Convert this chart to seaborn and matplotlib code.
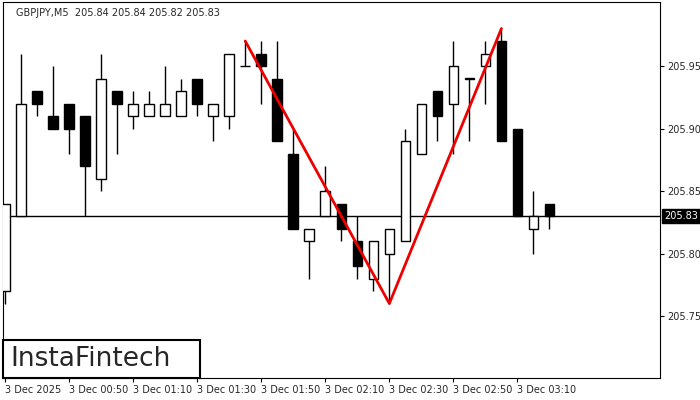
import matplotlib
matplotlib.use("Agg")
import matplotlib.pyplot as plt
import matplotlib.patches as mpatches
import seaborn as sns
import numpy as np

sns.set_style("white")
plt.rcParams['font.family'] = ['DejaVu Sans']

opens  = [205.77,205.83,205.93,205.91,205.92,205.91,205.86,205.93,205.91,205.91,205.91,205.91,205.94,205.91,205.91,205.95,205.96,205.94,
          205.88,205.81,205.83,205.84,205.81,205.78,205.80,205.81,205.88,205.93,205.92,205.94,205.95,205.97,205.90,205.82,205.84]
closes = [205.84,205.92,205.92,205.90,205.90,205.87,205.94,205.92,205.92,205.92,205.92,205.93,205.92,205.92,205.96,205.95,205.95,205.89,
          205.82,205.82,205.85,205.82,205.79,205.81,205.82,205.89,205.92,205.91,205.95,205.94,205.96,205.89,205.83,205.83,205.83]
highs  = [205.84,205.96,205.93,205.95,205.92,205.91,205.96,205.93,205.93,205.93,205.95,205.94,205.94,205.92,205.96,205.97,205.97,205.97,
          205.90,205.82,205.87,205.84,205.83,205.81,205.82,205.90,205.92,205.93,205.97,205.94,205.97,205.98,205.90,205.85,205.84]
lows   = [205.76,205.83,205.91,205.90,205.88,205.83,205.85,205.88,205.90,205.91,205.91,205.91,205.91,205.89,205.90,205.95,205.92,205.89,
          205.82,205.78,205.83,205.81,205.78,205.77,205.76,205.81,205.88,205.89,205.88,205.89,205.92,205.89,205.83,205.80,205.82]
pattern_idx = [15, 24, 31]
pattern_val = [205.97, 205.76, 205.98]
current_price = 205.83
xtick_idx = [0, 4, 8, 12, 16, 20, 24, 28, 32]
xtick_labels = ["3 Dec 2025", "3 Dec 00:50", "3 Dec 01:10", "3 Dec 01:30", "3 Dec 01:50",
                "3 Dec 02:10", "3 Dec 02:30", "3 Dec 02:50", "3 Dec 03:10"]
ytick_vals = [205.75, 205.80, 205.85, 205.90, 205.95]
title = "GBPJPY,M5  205.84 205.84 205.82 205.83"

fig = plt.figure(figsize=(7, 4), dpi=100)
ax = fig.add_axes([3/700, 22/400, 657/700, 376/400])
x = np.arange(len(opens))
o = np.array(opens); c = np.array(closes)
ax.vlines(x, lows, highs, color="black", lw=1, zorder=2)
up = c >= o
bottoms = np.minimum(o, c)
heights = np.maximum(np.abs(c - o), 0.0004)
ax.bar(x[up], heights[up], bottom=bottoms[up], width=0.6, facecolor="white", edgecolor="black", lw=1, zorder=3)
ax.bar(x[~up], heights[~up], bottom=bottoms[~up], width=0.6, facecolor="black", edgecolor="black", lw=1, zorder=3)
ax.axhline(current_price, color="black", lw=1, zorder=1)
ax.plot(pattern_idx, pattern_val, color="#ee0000", lw=2, zorder=4)

ax.set_xlim(-0.125, 40.9)
ax.set_ylim(205.7004, 206.0012)
ax.set_xticks(xtick_idx)
ax.set_xticklabels(xtick_labels, fontsize=7)
for lbl in ax.get_xticklabels():
    lbl.set_ha("left")
ax.yaxis.tick_right()
ax.set_yticks(ytick_vals)
ax.set_yticklabels([f"{v:.2f}" for v in ytick_vals], fontsize=7)
ax.tick_params(axis="both", length=3, width=0.8, direction="out", pad=2, color="black", bottom=True, right=True)
for s in ax.spines.values():
    s.set_color("black"); s.set_linewidth(0.8)

ax.text(0.02, 0.985, title, transform=ax.transAxes, fontsize=7, va="top", ha="left")
ax.annotate(f"{current_price:.2f}", xy=(1, current_price), xycoords=("axes fraction", "data"),
            xytext=(3, 0), textcoords="offset points", fontsize=7, color="white", va="center", ha="left",
            bbox=dict(boxstyle="square,pad=0.25", fc="black", ec="black"), annotation_clip=False)

fig.patches.append(mpatches.Rectangle((3/700, 1-378/400), 197/700, 38/400, transform=fig.transFigure,
                                      fc="white", ec="black", lw=1.5, zorder=10))
fig.text(10/700, 1-359/400, "InstaFintech", fontsize=19, va="center", ha="left", zorder=11)
fig.savefig("out.png", dpi=100)
